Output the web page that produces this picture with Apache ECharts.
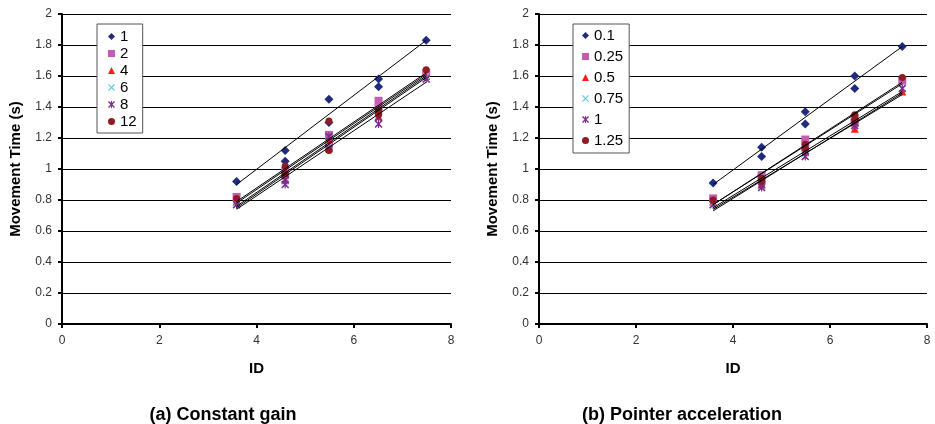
<!DOCTYPE html>
<html>
<head>
<meta charset="utf-8">
<script src="https://cdn.jsdelivr.net/npm/echarts@6/dist/echarts.min.js"></script>
<style>
html,body{margin:0;padding:0;background:#fff;}
#main{width:935px;height:424px;}
</style>
</head>
<body>
<div id="main"></div>
<script>
// ---- data ----
const ids = [3.59, 4.59, 4.59, 5.49, 5.49, 6.51, 6.51, 7.49];
const trendX = [3.59, 7.49];

// (a) Constant gain
const gainNames = ['1', '2', '4', '6', '8', '12'];
const gain1  = [0.92, 1.12, 1.05, 1.45, 1.30, 1.58, 1.53, 1.83];
const gain2  = [0.82, 0.99, 0.96, 1.22, 1.15, 1.44, 1.39, 1.62];
const gain4  = [0.79, 0.97, 0.93, 1.19, 1.14, 1.38, 1.34, 1.60];
const gain6  = [0.78, 0.95, 0.92, 1.21, 1.15, 1.37, 1.33, 1.60];
const gain8  = [0.77, 0.93, 0.90, 1.21, 1.13, 1.33, 1.29, 1.58];
const gain12 = [0.81, 1.02, 0.97, 1.31, 1.12, 1.38, 1.35, 1.64];
const gainTrendStart = [0.90, 0.79, 0.76, 0.75, 0.74, 0.78];
const gainTrendEnd   = [1.83, 1.62, 1.60, 1.59, 1.56, 1.61];

// (b) Pointer acceleration
const accNames = ['0.1', '0.25', '0.5', '0.75', '1', '1.25'];
const acc01  = [0.91, 1.14, 1.08, 1.37, 1.29, 1.60, 1.52, 1.79];
const acc025 = [0.81, 0.96, 0.93, 1.19, 1.14, 1.33, 1.30, 1.57];
const acc05  = [0.79, 0.93, 0.90, 1.14, 1.11, 1.30, 1.26, 1.50];
const acc075 = [0.78, 0.92, 0.90, 1.13, 1.10, 1.31, 1.28, 1.52];
const acc1   = [0.77, 0.90, 0.88, 1.12, 1.08, 1.30, 1.28, 1.52];
const acc125 = [0.80, 0.94, 0.92, 1.16, 1.13, 1.35, 1.32, 1.59];
const accTrendStart = [0.90, 0.77, 0.74, 0.75, 0.73, 0.77];
const accTrendEnd   = [1.79, 1.56, 1.48, 1.50, 1.49, 1.55];

const xTicks = {min: 0, max: 8, interval: 2};
const yTicks = {min: 0, max: 2, interval: 0.2};
const titles = ['(a) Constant gain', '(b) Pointer acceleration'];

// ---- styles ----
const FONT = '"Liberation Sans", Arial, Helvetica, sans-serif';
const X_PATH = 'path://M0,1.2 L1.2,0 L5,3.8 L8.8,0 L10,1.2 L6.2,5 L10,8.8 L8.8,10 L5,6.2 L1.2,10 L0,8.8 L3.8,5 Z';
const STAR_PATH = 'path://M0,1.4 L1.4,0 L5,3.6 L8.6,0 L10,1.4 L6.4,5 L10,8.6 L8.6,10 L5,6.4 L1.4,10 L0,8.6 L3.6,5 Z M4.3,0 L5.7,0 L5.7,10 L4.3,10 Z';
const markers = [
  {symbol: 'diamond',  size: 9, color: '#1F2C7C'},
  {symbol: 'rect',     size: 8, color: '#C65BB4'},
  {symbol: 'triangle', size: 8, color: '#FF1E1E'},
  {symbol: X_PATH,     size: 7, color: '#62C8DC'},
  {symbol: STAR_PATH,  size: 8, color: '#7A2B8C'},
  {symbol: 'circle',   size: 7, color: '#8E1B20'}
];

function buildChart(idx, prefix, names, valueSets, tStart, tEnd) {
  const series = [];
  names.forEach((n, i) => {
    series.push({
      name: prefix + n,
      type: 'scatter',
      xAxisIndex: idx, yAxisIndex: idx,
      symbol: markers[i].symbol,
      symbolSize: markers[i].size,
      itemStyle: {color: markers[i].color, opacity: 1},
      emphasis: {disabled: true},
      z: 3 + i * 0.01,
      data: ids.map((x, k) => [x, valueSets[i][k]])
    });
  });
  names.forEach((n, i) => {
    series.push({
      name: prefix + 'trend' + n,
      type: 'line',
      xAxisIndex: idx, yAxisIndex: idx,
      symbol: 'none',
      lineStyle: {color: '#000', width: 1},
      emphasis: {disabled: true},
      z: 5,
      data: [[trendX[0], tStart[i]], [trendX[1], tEnd[i]]]
    });
  });
  return series;
}

const seriesA = buildChart(0, 'A-', gainNames, [gain1, gain2, gain4, gain6, gain8, gain12], gainTrendStart, gainTrendEnd);
const seriesB = buildChart(1, 'B-', accNames, [acc01, acc025, acc05, acc075, acc1, acc125], accTrendStart, accTrendEnd);

function xAxis(gi) {
  return {
    gridIndex: gi, type: 'value', min: xTicks.min, max: xTicks.max, interval: xTicks.interval,
    name: 'ID', nameLocation: 'middle', nameGap: 37,
    nameTextStyle: {fontFamily: FONT, fontSize: 15, fontWeight: 'bold', color: '#000'},
    axisLine: {show: true, onZero: false, lineStyle: {color: '#000', width: 2}},
    axisTick: {show: true, inside: false, length: 4, lineStyle: {color: '#000', width: 2}},
    axisLabel: {fontFamily: FONT, fontSize: 12, color: '#333', margin: 11},
    splitLine: {show: false}
  };
}
function yAxis(gi) {
  return {
    gridIndex: gi, type: 'value', min: yTicks.min, max: yTicks.max, interval: yTicks.interval,
    name: 'Movement Time (s)', nameLocation: 'middle', nameGap: 39, nameRotate: 90,
    nameTextStyle: {fontFamily: FONT, fontSize: 15, fontWeight: 'bold', color: '#000'},
    axisLine: {show: true, lineStyle: {color: '#000', width: 2}},
    axisTick: {show: true, inside: false, length: 4, lineStyle: {color: '#000', width: 2}},
    axisLabel: {fontFamily: FONT, fontSize: 12, color: '#333', margin: 10},
    splitLine: {show: true, lineStyle: {color: '#000', width: 1}}
  };
}
function legend(prefix, names, left, top, itemGap, padding) {
  return {
    data: names.map(n => prefix + n),
    formatter: name => name.slice(prefix.length),
    orient: 'vertical', left: left, top: top,
    itemWidth: 7, itemHeight: 7, itemGap: itemGap,
    padding: padding,
    backgroundColor: '#fff', borderColor: '#555', borderWidth: 1,
    selectedMode: false,
    textStyle: {fontFamily: FONT, fontSize: 15, color: '#000'}
  };
}

const chart = echarts.init(document.getElementById('main'), null, {renderer: 'canvas'});
chart.setOption({
  animation: false,
  backgroundColor: '#fff',
  grid: [
    {left: 62, top: 14, width: 389, height: 310},
    {left: 539, top: 14, width: 388, height: 310}
  ],
  xAxis: [xAxis(0), xAxis(1)],
  yAxis: [yAxis(0), yAxis(1)],
  legend: [
    legend('A-', gainNames, 97, 24, 2, [5, 6, 4, 11]),
    legend('B-', accNames, 573, 24, 6, [4, 6, 5, 9])
  ],
  graphic: [
    {type: 'text', x: 223, y: 415, style: {text: titles[0], font: 'bold 18px ' + FONT, fill: '#000', textAlign: 'center', textVerticalAlign: 'middle', verticalAlign: 'middle'}},
    {type: 'text', x: 682, y: 415, style: {text: titles[1], font: 'bold 18px ' + FONT, fill: '#000', textAlign: 'center', textVerticalAlign: 'middle', verticalAlign: 'middle'}}
  ],
  series: seriesA.concat(seriesB)
});
</script>
</body>
</html>
